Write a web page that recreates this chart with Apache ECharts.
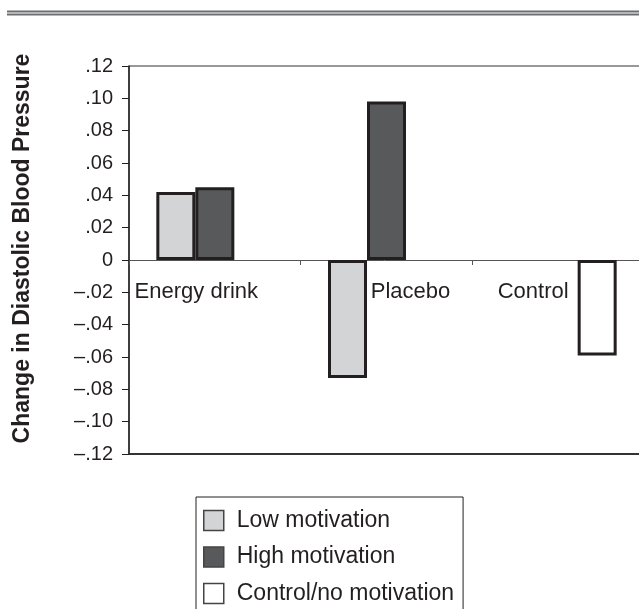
<!DOCTYPE html>
<html>
<head>
<meta charset="utf-8">
<script src="https://cdn.jsdelivr.net/npm/echarts@6/dist/echarts.min.js"></script>
<style>
  html, body { margin: 0; padding: 0; background: #fff; }
  #chart { width: 639px; height: 609px; }
</style>
</head>
<body>
<div id="chart"></div>
<script>
const categories = ['Energy drink', 'Placebo', 'Control']
const lowMotivation = [0.042, -0.073, null]
const highMotivation = [0.045, 0.098, null]
const controlNoMotivation = [null, null, -0.059]
const seriesNames = ['Low motivation', 'High motivation', 'Control/no motivation']

const myChart = echarts.init(document.getElementById('chart'))

// y tick labels like ".04" and "–.02"
function fmtTick(v) {
  if (Math.abs(v) < 1e-9) return '0'
  const s = Math.abs(v).toFixed(2).replace(/^0/, '')
  return v < 0 ? '\u2013' + s : s
}

const barBorder = { borderColor: '#231f20', borderWidth: 3 }

const option = {
  backgroundColor: '#fff',
  textStyle: { fontFamily: 'Liberation Sans, Arial, sans-serif', color: '#231f20' },
  graphic: [
    { type: 'line', shape: { x1: 7, y1: 11.5, x2: 639, y2: 11.5 }, style: { stroke: '#6d6e71', lineWidth: 2 } },
    { type: 'line', shape: { x1: 7, y1: 14.5, x2: 639, y2: 14.5 }, style: { stroke: '#6d6e71', lineWidth: 2 } }
  ],
  grid: {
    left: 129,
    right: -5,
    top: 66,
    bottom: 155,
    containLabel: false,
    outerBoundsMode: 'none',
    show: true,
    borderColor: '#333',
    borderWidth: 1
  },
  legend: {
    orient: 'vertical',
    left: 196,
    top: 497,
    height: 140,
    padding: [12, 9, 12, 7],
    borderColor: '#231f20',
    borderWidth: 1,
    itemWidth: 20,
    itemHeight: 20,
    itemGap: 13.5,
    textStyle: { fontSize: 23, lineHeight: 20, color: '#231f20', padding: [0, 0, 0, 8] },
    data: [
      { name: seriesNames[0], icon: 'rect', itemStyle: { color: '#d3d4d6', borderColor: '#444', borderWidth: 1.5 } },
      { name: seriesNames[1], icon: 'rect', itemStyle: { color: '#58595b', borderColor: '#444', borderWidth: 1.5 } },
      { name: seriesNames[2], icon: 'rect', itemStyle: { color: '#fff', borderColor: '#444', borderWidth: 1.5 } }
    ]
  },
  xAxis: [
    {
      // zero line with boundary ticks
      type: 'category',
      data: categories,
      axisLine: { onZero: true, lineStyle: { color: '#555', width: 1 } },
      axisTick: { show: true, length: 5, lineStyle: { color: '#555' } },
      axisLabel: { show: false }
    },
    {
      // bottom frame line, carries the category labels
      type: 'category',
      data: categories,
      position: 'bottom',
      axisLine: { onZero: false, lineStyle: { color: '#333', width: 2 } },
      axisTick: { show: false },
      axisLabel: {
        interval: 0,
        margin: -173,
        fontSize: 22,
        color: '#231f20',
        formatter: (v, i) => `{c${i}|${v}}`,
        rich: {
          c0: { fontSize: 22, padding: [0, 37, 0, 0] },
          c1: { fontSize: 22, padding: [0, 0, 0, 48] },
          c2: { fontSize: 22, padding: [0, 50, 0, 0] }
        }
      }
    }
  ],
  yAxis: {
    type: 'value',
    min: -0.12,
    max: 0.12,
    interval: 0.02,
    name: 'Change in Diastolic Blood Pressure',
    nameLocation: 'middle',
    nameGap: 95,
    nameRotate: 90,
    nameTextStyle: { fontSize: 23, fontWeight: 'bold', color: '#231f20', padding: [0, 0, 0, 23] },
    axisLine: { show: true, lineStyle: { color: '#231f20', width: 1.5 } },
    axisTick: { show: true, length: 7, lineStyle: { color: '#231f20' } },
    splitLine: { show: false },
    axisLabel: { fontSize: 20, margin: 16, color: '#231f20', formatter: fmtTick }
  },
  series: [
    {
      name: seriesNames[0],
      type: 'bar',
      barWidth: 39,
      barGap: '0%',
      data: lowMotivation,
      itemStyle: Object.assign({ color: '#d3d4d6' }, barBorder)
    },
    {
      name: seriesNames[1],
      type: 'bar',
      barWidth: 39,
      barGap: '0%',
      data: highMotivation,
      itemStyle: Object.assign({ color: '#58595b' }, barBorder)
    },
    {
      name: seriesNames[2],
      type: 'bar',
      barWidth: 39,
      barGap: '0%',
      data: controlNoMotivation,
      itemStyle: Object.assign({ color: '#ffffff' }, barBorder)
    }
  ]
}

myChart.setOption(option)
</script>
</body>
</html>
